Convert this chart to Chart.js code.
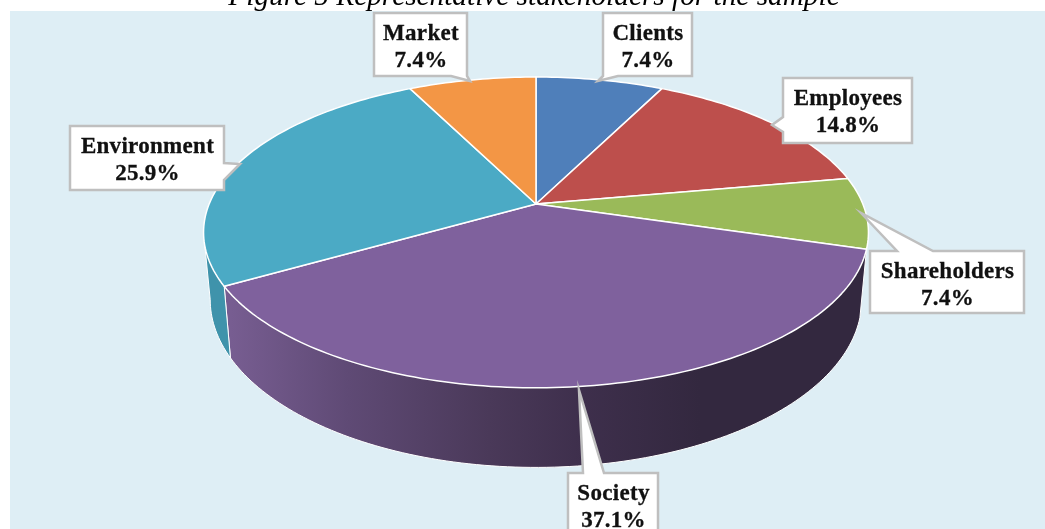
<!DOCTYPE html>
<html>
<head>
<meta charset="utf-8">
<title>Representative stakeholders</title>
<script src="https://cdn.jsdelivr.net/npm/chart.js@4/dist/chart.umd.min.js"></script>
<style>
    html, body { margin: 0; padding: 0; background: #fff; overflow: hidden; }
    #wrap { width: 1045px; height: 529px; position: relative; }
</style>
</head>
<body>
<div id="wrap"><canvas id="stakeChart" width="1045" height="529"></canvas></div>
<script>
const categories = ['Clients', 'Employees', 'Shareholders', 'Society', 'Environment', 'Market'];
const shares = [7.4, 14.8, 7.4, 37.1, 25.9, 7.4];
const faceColors = ['#4f7fba', '#bd4f4c', '#9aba59', '#7f619d', '#4baac5', '#f39645'];
// only the two front slices show a side wall
const wallColors = [null, null, null, '#33283f', '#3f93ab', null];
const chartTitle = 'Figure 5 Representative stakeholders for the sample';

// callout boxes: box corners, pointer tip and the two points where the pointer leaves the box
const callouts = [
    { x0: 603, y0: 13, x1: 692, y1: 76, tip: [598, 81], side: 'bottom', from: 618, to: 603 },
    { x0: 783, y0: 78, x1: 912, y1: 143, tip: [772, 125], side: 'left', from: 132, to: 117 },
    { x0: 870, y0: 251, x1: 1024, y1: 313, tip: [861, 213], side: 'top', from: 897, to: 933 },
    { x0: 568, y0: 473, x1: 658, y1: 536, tip: [579, 390], side: 'top', from: 583, to: 604 },
    { x0: 70, y0: 126, x1: 224, y1: 190, tip: [240, 164], side: 'right', from: 163, to: 180 },
    { x0: 374, y0: 13, x1: 467, y1: 76, tip: [470, 81], side: 'bottom', from: 467, to: 451 }
];

// perspective of the tilted disc, relative to the arc's own centre and radius
const tilt = { sx: 1.61, sy: 0.556, k: -0.183 };
const base = { scale: 0.98, drop: 65 };

function project(arc, angle, lower) {
    const u = Math.cos(angle) * arc.outerRadius;
    const v = Math.sin(angle) * arc.outerRadius;
    const den = 1 + tilt.k * v / arc.outerRadius;
    const s = lower ? base.scale : 1;
    return {
        x: arc.x + s * tilt.sx * u / den,
        y: (tilt.sy * v + arc.y + (lower ? base.drop : 0)) / den,
        angle: angle
    };
}

function arcPoints(arc, lower) {
    const pts = [];
    const steps = Math.max(2, Math.ceil((arc.endAngle - arc.startAngle) / 0.02));
    for (let i = 0; i <= steps; i++) {
        pts.push(project(arc, arc.startAngle + (i / steps) * (arc.endAngle - arc.startAngle), lower));
    }
    return pts;
}

function addPath(ctx, pts, open) {
    pts.forEach((p, i) => i ? ctx.lineTo(p.x, p.y) : ctx.moveTo(p.x, p.y));
    if (!open) ctx.closePath();
}

function drawWall(ctx, arc, fill) {
    // keep only the part of the rim that faces the viewer
    const upper = arcPoints(arc, false).filter(p => Math.sin(p.angle) >= -tilt.k);
    const lower = arcPoints(arc, true).filter(p => Math.sin(p.angle) >= -tilt.k);

    ctx.beginPath();
    addPath(ctx, upper.concat(lower.slice().reverse()));
    ctx.fillStyle = fill;
    ctx.fill();

    ctx.beginPath();
    addPath(ctx, [upper[0]].concat(lower, [upper[upper.length - 1]]), true);
    ctx.strokeStyle = '#ffffff';
    ctx.lineWidth = 1;
    ctx.stroke();
}

function drawCallout(ctx, c, index) {
    const pts = [[c.x0, c.y0]];
    if (c.side === 'top') pts.push([c.from, c.y0], c.tip, [c.to, c.y0]);
    pts.push([c.x1, c.y0]);
    if (c.side === 'right') pts.push([c.x1, c.from], c.tip, [c.x1, c.to]);
    pts.push([c.x1, c.y1]);
    if (c.side === 'bottom') pts.push([c.from, c.y1], c.tip, [c.to, c.y1]);
    pts.push([c.x0, c.y1]);
    if (c.side === 'left') pts.push([c.x0, c.from], c.tip, [c.x0, c.to]);

    ctx.beginPath();
    pts.forEach((p, i) => i ? ctx.lineTo(p[0], p[1]) : ctx.moveTo(p[0], p[1]));
    ctx.closePath();
    ctx.fillStyle = '#ffffff';
    ctx.fill();
    ctx.strokeStyle = '#bfbfbf';
    ctx.lineWidth = 2.5;
    ctx.lineJoin = 'miter';
    ctx.stroke();

    const mid = (c.x0 + c.x1) / 2 + 0.5;
    ctx.fillStyle = '#111111';
    ctx.strokeStyle = '#111111';
    ctx.lineWidth = 0.3;
    ctx.font = 'bold 23px "Liberation Serif"';
    ctx.letterSpacing = '0.3px';
    ctx.textAlign = 'center';
    ctx.textBaseline = 'middle';
    [categories[index], shares[index].toFixed(1) + '%'].forEach((line, i) => {
        ctx.fillText(line, mid, c.y0 + 21 + i * 27);
        ctx.strokeText(line, mid, c.y0 + 21 + i * 27);
    });
    ctx.letterSpacing = '0px';
}

const pie3d = {
    id: 'pie3d',
    beforeDraw(chart) {
        const ctx = chart.ctx;
        ctx.save();
        ctx.fillStyle = '#ffffff';
        ctx.fillRect(0, 0, chart.width, chart.height);
        ctx.fillStyle = '#deeef5';
        ctx.fillRect(10, 11, chart.width - 10, chart.height - 11);
        ctx.restore();
    },
    // the library's own arcs give the angles, only the painting is replaced
    beforeDatasetsDraw(chart) {
        const ctx = chart.ctx;
        const arcs = chart.getDatasetMeta(0).data;
        ctx.save();
        ctx.lineJoin = 'round';

        const wallGrad = ctx.createLinearGradient(231, 0, 700, 0);
        wallGrad.addColorStop(0, '#775d91');
        wallGrad.addColorStop(0.25, '#5f4a75');
        wallGrad.addColorStop(0.55, '#4a3959');
        wallGrad.addColorStop(0.75, '#3e2f4c');
        wallGrad.addColorStop(1, wallColors[3]);

        // side walls first, faces cover whatever sits behind them
        arcs.forEach((arc, i) => {
            if (!wallColors[i]) return;
            drawWall(ctx, arc, categories[i] === 'Society' ? wallGrad : wallColors[i]);
        });

        arcs.forEach((arc, i) => {
            const centre = { x: arc.x, y: arc.y };
            ctx.beginPath();
            addPath(ctx, [centre].concat(arcPoints(arc, false)));
            ctx.fillStyle = faceColors[i];
            ctx.fill();
            ctx.strokeStyle = '#ffffff';
            ctx.lineWidth = 1.5;
            ctx.stroke();
        });
        ctx.restore();
        return false;
    },
    afterDraw(chart) {
        const ctx = chart.ctx;
        ctx.save();
        callouts.forEach((c, i) => drawCallout(ctx, c, i));
        ctx.fillStyle = '#000000';
        ctx.font = 'italic 29.3px "Liberation Serif"';
        ctx.textAlign = 'center';
        ctx.textBaseline = 'alphabetic';
        ctx.fillText(chartTitle, 534, 5);
        ctx.restore();
    }
};

document.addEventListener('DOMContentLoaded', function() {
    const ctx = document.getElementById('stakeChart').getContext('2d');
    new Chart(ctx, {
        type: 'pie',
        data: {
            labels: categories,
            datasets: [{
                data: shares,
                backgroundColor: faceColors,
                borderColor: '#ffffff'
            }]
        },
        options: {
            responsive: false,
            animation: false,
            // puts the arcs' centre at the apex of the pie
            layout: { padding: { left: 27, right: 0, top: 0, bottom: 121 } },
            plugins: {
                legend: { display: false },
                tooltip: { enabled: false }
            }
        },
        plugins: [pie3d]
    });
});
</script>
</body>
</html>
